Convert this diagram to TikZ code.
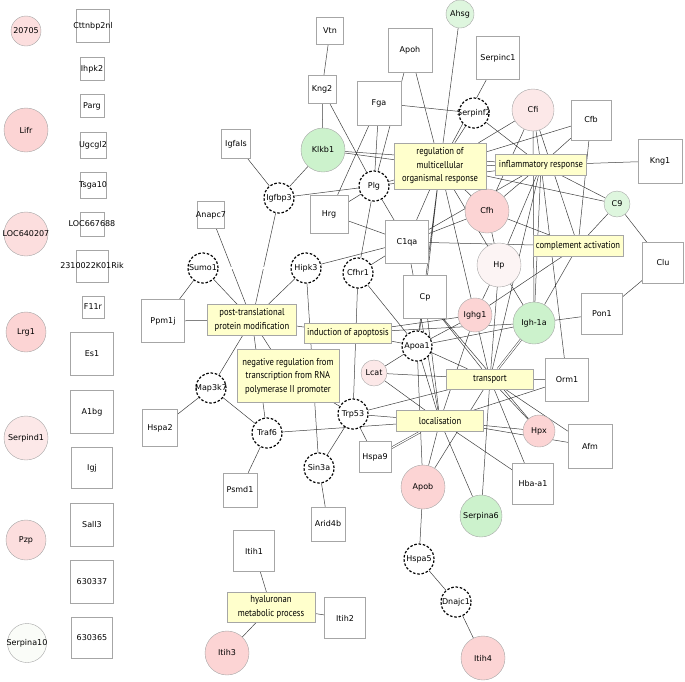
\documentclass[tikz,border=0pt]{standalone}
\usepackage{fontspec}
\newfontfamily\genefont{DejaVu Sans}
\newfontfamily\gofont[FakeStretch=0.86]{PT Sans}
\usetikzlibrary{backgrounds}
\definecolor{pinkA}{RGB}{252,212,212}
\definecolor{pinkB}{RGB}{252,222,222}
\definecolor{pinkC}{RGB}{252,232,232}
\definecolor{pinkD}{RGB}{252,244,244}
\definecolor{greenA}{RGB}{204,242,204}
\definecolor{greenB}{RGB}{222,246,222}
\definecolor{paleA}{RGB}{250,252,248}
\definecolor{goyellow}{RGB}{255,255,204}
\tikzset{
  gene/.style={inner sep=0pt, draw=black!35, fill=white},
  sq/.style={gene, rectangle},
  ball/.style={gene, circle},
  hub/.style={gene, circle, draw=black, line width=1.2pt, dash pattern=on 2.5pt off 1.8pt, minimum size=30pt},
  term/.style={rectangle, draw=black!35, fill=goyellow, align=center, inner sep=1pt,
    font=\gofont\fontsize{10}{13.5}\selectfont},
  edge/.style={draw=black!75, line width=0.5pt},
  twin/.style={edge, double, double distance=1.2pt},
  every label/.append style={inner sep=0pt, font=\genefont\fontsize{8}{9}\selectfont},
}
\begin{document}
\begin{tikzpicture}[x=1pt,y=-1pt]
  \useasboundingbox (0,0) rectangle (685,681);
  % genes without links
  \node[ball, fill=pinkB, minimum size=30pt, label=center:20705] (g20705) at (26,31) {};
  \node[ball, fill=pinkA, minimum size=44pt, label=center:Lifr] (lifr) at (26,130) {};
  \node[ball, fill=pinkB, minimum size=44pt, label=center:LOC640207] (loc640207) at (26,234) {};
  \node[ball, fill=pinkA, minimum size=40pt, label=center:Lrg1] (lrg1) at (26,332) {};
  \node[ball, fill=pinkC, minimum size=44pt, label=center:Serpind1] (serpind1) at (26,438) {};
  \node[ball, fill=pinkB, minimum size=40pt, label=center:Pzp] (pzp) at (26,540) {};
  \node[ball, fill=paleA, minimum size=39pt, label=center:Serpina10] (serpinaX) at (27,643) {};
  \node[sq, minimum size=33pt, label=center:Cttnbp2nl] (cttnbp2nl) at (93,26) {};
  \node[sq, minimum width=24pt, minimum height=23pt, label=center:Ihpk2] (ihpk2) at (92,69) {};
  \node[sq, minimum width=24pt, minimum height=23pt, label=center:Parg] (parg) at (92,106) {};
  \node[sq, minimum size=26pt, label=center:Ugcgl2] (ugcgl2) at (93,145) {};
  \node[sq, minimum size=26pt, label=center:Tsga10] (tsga10) at (93,185) {};
  \node[sq, minimum size=24pt, label=center:LOC667688] (loc667688) at (92,224) {};
  \node[sq, minimum size=32pt, label=center:2310022K01Rik] (rik) at (92,266) {};
  \node[sq, minimum size=22pt, label=center:F11r] (f11r) at (93,307) {};
  \node[sq, minimum size=43pt, label=center:Es1] (es1) at (92,354) {};
  \node[sq, minimum size=43pt, label=center:A1bg] (a1bg) at (92,412) {};
  \node[sq, minimum size=41pt, label=center:Igj] (igj) at (92,468) {};
  \node[sq, minimum size=43pt, label=center:Sall3] (sall3) at (92,525) {};
  \node[sq, minimum size=43pt, label=center:630337] (g630337) at (92,582) {};
  \node[sq, minimum size=41pt, label=center:630365] (g630365) at (92,638) {};
  % network genes
  \node[sq, minimum size=27pt, label=center:Vtn] (vtn) at (330,31) {};
  \node[sq, minimum size=28pt, label=center:Kng2] (kng2) at (322,89) {};
  \node[sq, minimum size=44pt, label=center:Fga] (fga) at (379,103) {};
  \node[sq, minimum size=44pt, label=center:Apoh] (apoh) at (410,50) {};
  \node[ball, fill=greenB, minimum size=28pt, label=center:Ahsg] (ahsg) at (460,14) {};
  \node[sq, minimum size=43pt, label=center:Serpinc1] (serpinc1) at (498,58) {};
  \node[hub, label=center:Serpinf2] (serpinf2) at (474,113) {};
  \node[ball, fill=pinkC, minimum size=42pt, label=center:Cfi] (cfi) at (533,110) {};
  \node[sq, minimum size=40pt, label=center:Cfb] (cfb) at (591,120) {};
  \node[sq, minimum size=44pt, label=center:Kng1] (kng1) at (660,161) {};
  \node[ball, fill=greenA, minimum size=44pt, label=center:Klkb1] (klkb1) at (323,150) {};
  \node[sq, minimum size=29pt, label=center:Igfals] (igfals) at (236,144) {};
  \node[hub, label=center:Igfbp3] (igfbp3) at (279,198) {};
  \node[hub, label=center:Plg] (plg) at (374,186) {};
  \node[sq, minimum size=38pt, label=center:Hrg] (hrg) at (329,214) {};
  \node[sq, minimum size=27pt, label=center:Anapc7] (anapc7) at (211,215) {};
  \node[sq, minimum size=43pt, label=center:C1qa] (c1qa) at (407,242) {};
  \node[ball, fill=pinkA, minimum size=44pt, label=center:Cfh] (cfh) at (487,211) {};
  \node[ball, fill=greenB, minimum size=26pt, label=center:C9] (c9) at (617,204) {};
  \node[ball, fill=pinkD, minimum size=44pt, label=center:Hp] (hp) at (499,265) {};
  \node[sq, minimum size=41pt, label=center:Clu] (clu) at (663,263) {};
  \node[sq, minimum size=43pt, label=center:Cp] (cp) at (425,297) {};
  \node[ball, fill=pinkA, minimum size=34pt, label=center:Ighg1] (ighg1) at (475,315) {};
  \node[ball, fill=greenA, minimum size=42pt, label=center:Igh-1a] (igha) at (534,323) {};
  \node[sq, minimum size=41pt, label=center:Pon1] (pon1) at (602,314) {};
  \node[hub, label=center:Apoa1] (apoa1) at (417,346) {};
  \node[sq, minimum size=43pt, label=center:Orm1] (orm1) at (567,380) {};
  \node[ball, fill=pinkA, minimum size=32pt, label=center:Hpx] (hpx) at (539,431) {};
  \node[sq, minimum size=44pt, label=center:Afm] (afm) at (590,446) {};
  \node[sq, minimum size=41pt, label=center:Hba-a1] (hbaa1) at (533,484) {};
  \node[ball, fill=pinkA, minimum size=44pt, label=center:Apob] (apob) at (423,487) {};
  \node[ball, fill=greenA, minimum size=42pt, label=center:Serpina6] (serpina6) at (481,516) {};
  \node[hub, label=center:Hspa5] (hspa5) at (419,559) {};
  \node[hub, label=center:Dnajc1] (dnajc1) at (456,602) {};
  \node[ball, fill=pinkA, minimum size=44pt, label=center:Itih4] (itih4) at (483,658) {};
  \node[hub, label=center:Sumo1] (sumo1) at (203,268) {};
  \node[hub, label=center:Hipk3] (hipk3) at (306,268) {};
  \node[hub, label=center:Cfhr1] (cfhr1) at (358,273) {};
  \node[sq, minimum size=43pt, label=center:Ppm1j] (ppm1j) at (163,321) {};
  \node[ball, fill=pinkC, minimum size=26pt, label=center:Lcat] (lcat) at (374,373) {};
  \node[hub, label=center:Map3k7] (map3k7) at (211,388) {};
  \node[sq, minimum width=35pt, minimum height=37pt, label=center:Hspa2] (hspa2) at (160,428) {};
  \node[hub, label=center:Trp53] (trp53) at (353,414) {};
  \node[hub, label=center:Traf6] (traf6) at (267,433) {};
  \node[hub, label=center:Sin3a] (sin3a) at (319,468) {};
  \node[sq, minimum width=32pt, minimum height=31pt, label=center:Hspa9] (hspa9) at (375,457) {};
  \node[sq, minimum size=34pt, label=center:Psmd1] (psmd1) at (240,490) {};
  \node[sq, minimum size=34pt, label=center:Arid4b] (arid4b) at (328,524) {};
  \node[sq, minimum size=41pt, label=center:Itih1] (itih1) at (254,551) {};
  \node[sq, minimum size=41pt, label=center:Itih2] (itih2) at (345,618) {};
  \node[ball, fill=pinkA, minimum size=44pt, label=center:Itih3] (itih3) at (227,653) {};
  % GO terms
  \node[term, minimum width=92pt, minimum height=46pt] (goreg) at (440,166) {regulation of\\multicellular\\organismal response};
  \node[term, minimum width=91pt, minimum height=21pt] (goinfl) at (541,165) {inflammatory response};
  \node[term, minimum width=90pt, minimum height=21pt] (gocompl) at (578,246) {complement activation};
  \node[term, minimum width=87pt, minimum height=20pt] (gotrans) at (490,379) {transport};
  \node[term, minimum width=87pt, minimum height=21pt] (goloc) at (440,421) {localisation};
  \node[term, minimum width=89pt, minimum height=31pt] (goptm) at (252,320) {post-translational\\protein modification};
  \node[term, minimum width=87pt, minimum height=20pt] (goapop) at (348,333) {induction of apoptosis};
  \node[term, minimum width=102pt, minimum height=53pt] (gotransc) at (288,376) {negative regulation from\\transcription from RNA\\polymerase II promoter};
  \node[term, minimum width=88pt, minimum height=30pt] (gohyal) at (271,607) {hyaluronan\\metabolic process};
  % links
  \begin{scope}[on background layer]
    \draw[edge] (vtn) -- (kng2) (kng2) -- (klkb1) (kng2) -- (plg)
      (igfals) -- (igfbp3) (klkb1) -- (igfbp3) (igfbp3) -- (plg)
      (igfbp3) -- (goptm) (anapc7) -- (goptm) (fga) -- (plg) (fga) -- (hrg)
      (fga) -- (serpinf2) (apoh) -- (plg) (hrg) -- (plg) (hrg) -- (c1qa)
      (plg) -- (c1qa) (plg) -- (cfhr1) (hipk3) -- (c1qa) (cfhr1) -- (c1qa);
    \draw[edge] (apoh) -- (goreg) (ahsg) -- (goreg) (serpinc1) -- (goreg)
      (serpinf2) -- (goreg) (serpinf2) -- (goinfl) (cfi) -- (goreg)
      (cfi) -- (goinfl) (cfi) -- (cfh) (cfi) -- (gocompl) (cfi) -- (igha)
      (cfb) -- (goreg) (cfb) -- (goinfl) (cfb) -- (gocompl) (kng1) -- (goinfl)
      (goreg) -- (goinfl) (goreg) -- (c9) (goinfl) -- (c9) (c9) -- (clu)
      (c9) -- (gocompl) (clu) -- (pon1) (klkb1) -- (goreg) (klkb1) -- (goinfl)
      (plg) -- (goreg) (plg) -- (goinfl);
    \draw[edge] (c1qa) -- (gocompl) (c1qa) -- (goreg) (c1qa) -- (cfh)
      (c1qa) -- (goinfl) (c1qa) -- (goloc) (goreg) -- (cfh) (goreg) -- (hp)
      (goreg) -- (ighg1) (goreg) -- (cp) (goreg) -- (apoa1) (goinfl) -- (cfh)
      (goinfl) -- (hp) (goinfl) -- (igha) (goinfl) -- (orm1) (goinfl) -- (gotrans)
      (cfh) -- (gocompl) (cfh) -- (hp) (hp) -- (ighg1) (hp) -- (igha)
      (hp) -- (gotrans) (gocompl) -- (ighg1) (gocompl) -- (igha) (igha) -- (pon1)
      (ighg1) -- (gotrans) (ighg1) -- (goloc);
    \draw[twin] (igha) -- (gotrans);
    \draw[twin] (sumo1) -- (hipk3);
    \draw[edge] (sumo1) -- (goptm) (hipk3) -- (goptm) (sumo1) -- (ppm1j)
      (ppm1j) -- (goptm) (hipk3) -- (sin3a) (goptm) -- (goapop) (goptm) -- (gotransc)
      (goptm) -- (map3k7) (goptm) -- (traf6) (map3k7) -- (hspa2) (map3k7) -- (traf6)
      (traf6) -- (goloc) (traf6) -- (psmd1) (sin3a) -- (arid4b) (sin3a) -- (trp53)
      (cfhr1) -- (trp53) (gotransc) -- (trp53) (trp53) -- (goloc) (trp53) -- (gotrans)
      (trp53) -- (hspa9);
    \draw[twin] (hspa9) -- (goloc);
    \draw[edge] (cfhr1) -- (apoa1) (goapop) -- (apoa1) (goapop) -- (ighg1)
      (goapop) -- (igha) (lcat) -- (apoa1) (lcat) -- (gotrans) (lcat) -- (goloc)
      (cp) -- (apoa1) (cp) -- (goloc) (cp) -- (gotrans) (cp) -- (hpx)
      (apoa1) -- (ighg1) (apoa1) -- (igha) (apoa1) -- (gotrans) (apoa1) -- (goloc)
      (apoa1) -- (apob);
    \draw[edge] (gotrans) -- (orm1) (goloc) -- (orm1) (gotrans) -- (hpx)
      (gotrans) -- (afm) (gotrans) -- (hbaa1) (gotrans) -- (apob) (gotrans) -- (serpina6)
      (goloc) -- (hpx) (goloc) -- (afm) (goloc) -- (hbaa1) (goloc) -- (apob)
      (goloc) -- (serpina6) (apob) -- (hspa5) (hspa5) -- (dnajc1) (dnajc1) -- (itih4)
      (itih1) -- (gohyal) (itih2) -- (gohyal) (itih3) -- (gohyal);
  \end{scope}
\end{tikzpicture}
\end{document}
